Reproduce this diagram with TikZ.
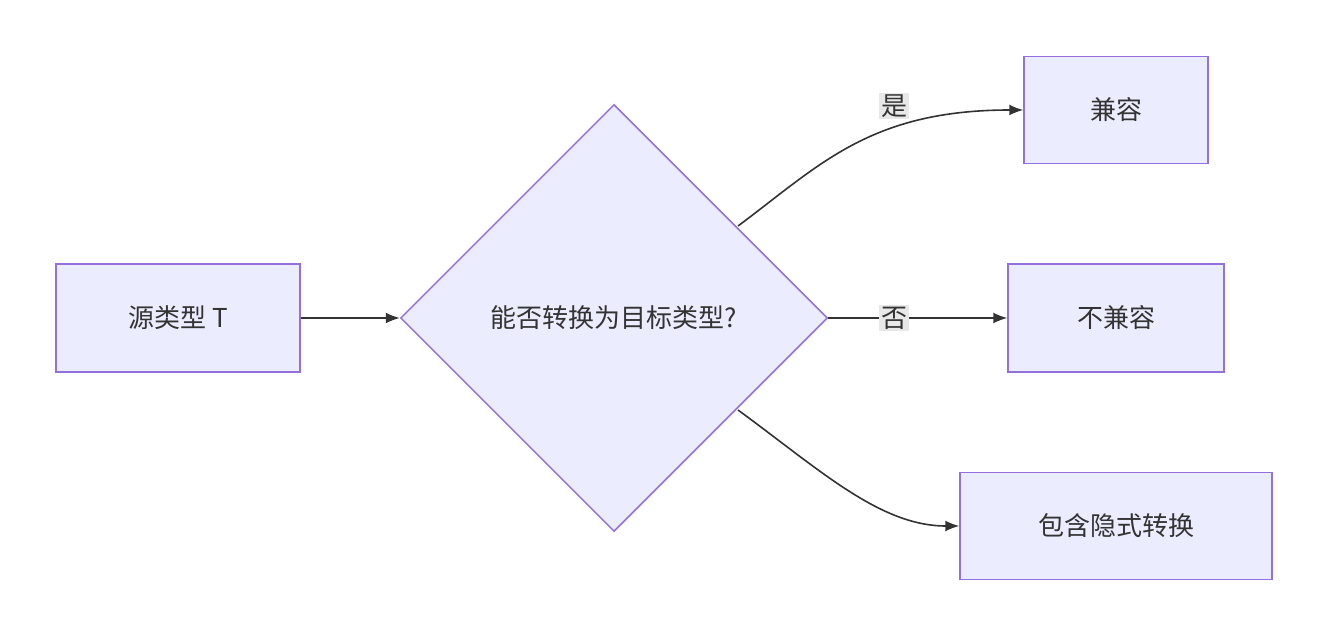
\documentclass[tikz,border=0pt]{standalone}
\usepackage{fontspec}
\setmainfont{Noto Sans CJK SC}
\usetikzlibrary{shapes.geometric, arrows.meta}
\definecolor{nodefill}{HTML}{ECECFF}
\definecolor{nodeline}{HTML}{9370DB}
\definecolor{edgeline}{HTML}{333333}
\definecolor{labelbg}{HTML}{E8E8E8}
\tikzset{>={Latex[length=14pt,width=11pt]}}
\tikzset{
    box/.style={draw=nodeline, fill=nodefill, line width=1.5pt, inner sep=0pt,
        font=\fontsize{26}{30}\selectfont, text=edgeline},
    edge/.style={draw=edgeline, line width=1.6pt, ->},
    elabel/.style={fill=labelbg, inner sep=2pt, font=\fontsize{26}{30}\selectfont, text=edgeline}
}

\begin{document}
\begin{tikzpicture}[x=1pt, y=-1pt]
    \useasboundingbox (0, 0) rectangle (1328, 636);
    \node[box, minimum width=244pt, minimum height=108pt](src) at (178, 318){源类型 T};
    \node[box, diamond, aspect=1, minimum width=427pt, minimum height=427pt](chk) at (614, 318){能否转换为目标类型?};
    \node[box, minimum width=184pt, minimum height=107pt](ok) at (1116, 110){兼容};
    \node[box, minimum width=216pt, minimum height=108pt](no) at (1116, 318){不兼容};
    \node[box, minimum width=312pt, minimum height=107pt](imp) at (1116, 526){包含隐式转换};
    \coordinate (up) at (738, 226);
    \coordinate (down) at (738, 410);
    % edges
    \draw[edge](src.east) -- (chk.west);
    \draw[edge](up) .. controls (820, 165) and (870, 110) .. (ok.west);
    \draw[edge](chk.east) -- (no.west);
    \draw[edge](down) .. controls (820, 470) and (880, 526) .. (imp.west);
    \node[elabel](yes) at (894, 106){是};
    \node[elabel](nope) at (894, 318){否};
\end{tikzpicture}
\end{document}
